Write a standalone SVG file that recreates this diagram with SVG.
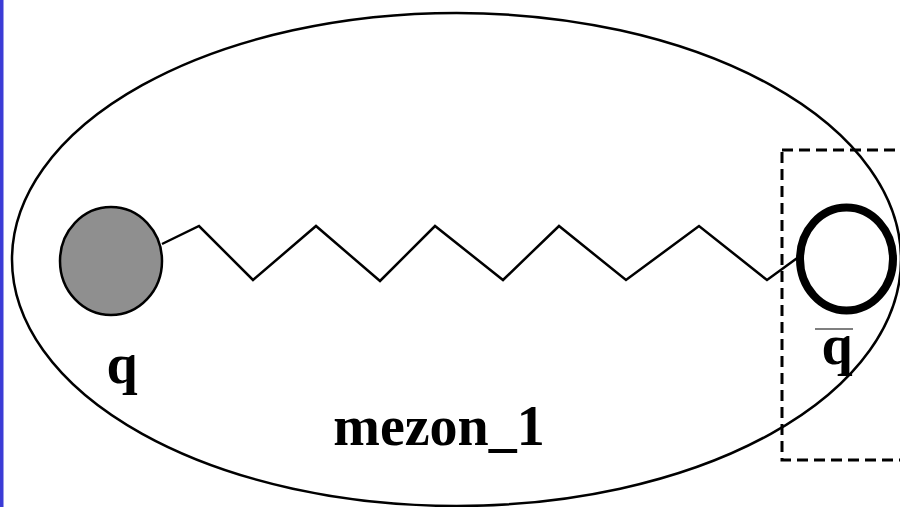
<svg xmlns="http://www.w3.org/2000/svg" width="900" height="507" viewBox="0 0 900 507">
<style>
.lbl{font-family:"Liberation Serif","Times New Roman",serif;font-weight:bold;font-size:56px;fill:#000;text-anchor:middle}
.ln{fill:none;stroke:#000;stroke-width:2.5;stroke-linejoin:miter}
</style>
<rect x="0" y="0" width="900" height="507" fill="#fff"/>
<rect x="0" y="0" width="3.5" height="507" fill="#3b3bd6"/>
<g id="mezon">
<ellipse cx="456.5" cy="259.5" rx="444.5" ry="246.5" fill="none" stroke="#000" stroke-width="2.5"/>
<text class="lbl" x="439" y="445" font-size="55">mezon_1</text>
</g>
<g id="connectors">
<polyline class="ln" points="162,244 199,226 253,280 316,226 380,281 435,226 503,280 559,226 626,280 699,226 767,280 800,256"/>
</g>
<g id="box">
<rect x="782" y="150" width="130" height="310" fill="none" stroke="#000" stroke-width="3" stroke-dasharray="11,6"/>
</g>
<g id="quark">
<ellipse cx="111" cy="261" rx="51" ry="54" fill="#8f8f8f" stroke="#000" stroke-width="2.5"/>
<text class="lbl" x="122" y="383">q</text>
</g>
<g id="antiquark">
<ellipse cx="846.5" cy="259" rx="46.5" ry="51.5" fill="#fff" stroke="#000" stroke-width="8"/>
<text class="lbl" x="837" y="364">q</text>
<line x1="815" y1="329" x2="853" y2="329" stroke="#555" stroke-width="1.5"/>
</g>
</svg>
